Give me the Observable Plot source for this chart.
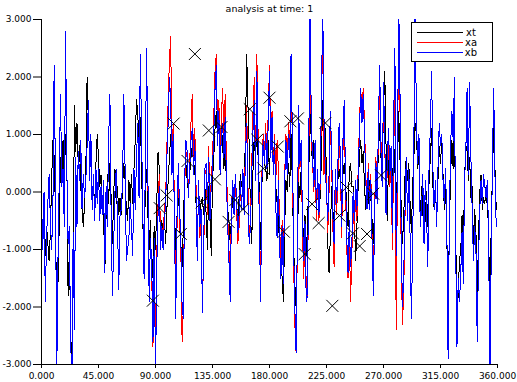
<!DOCTYPE html>
<html><head><meta charset="utf-8">
<script src="https://cdn.jsdelivr.net/npm/d3@7"></script>
<script src="https://cdn.jsdelivr.net/npm/@observablehq/plot@0.6"></script>
<style>body{margin:0;background:#fff;} svg{display:block}</style>
</head><body><div id="chart"></div>
<script>
const title = "analysis at time: 1";
const xTicks = [0, 45, 90, 135, 180, 225, 270, 315, 360];
const yTicks = [-3, -2, -1, 0, 1, 2, 3];
const seriesNames = ["xt", "xa", "xb"];
const seriesColors = ["#000000", "#ff0000", "#0000ff"];

const xt = [
-0.4,-0.7,-0.5,-1.1,-0.6,-0.9,-1.2,-0.7,0.2,0.9,
0.6,-0.3,-2.3,-1.6,-0.6,0.6,0.1,0.9,0.2,1.0,
0.5,-1.8,-1.0,-2.4,-3.1,-1.2,1.5,0.7,1.2,0.5,
0.8,0.1,-0.3,-0.6,-0.2,0.4,2.0,1.2,0.6,0.8,
-0.1,0.2,-0.3,0.5,1.0,0.6,0.1,0.3,-0.2,-0.4,
-1.4,-0.4,0.3,-0.2,0.5,-0.1,-0.9,0.0,0.4,-0.2,
0.1,-0.4,-0.1,-0.4,0.1,0.5,0.2,-0.3,-0.5,0.2,
-0.2,0.3,-0.2,0.4,0.9,1.6,1.4,0.6,1.3,0.4,
-0.6,-0.9,0.0,0.4,-0.4,-1.0,-0.5,-1.6,-1.2,-0.6,
-1.0,-0.2,0.7,0.4,-0.9,-0.5,-0.8,-0.4,-0.9,-0.3,
0.2,0.6,1.0,0.4,0.8,-0.3,-1.1,-0.4,0.2,-0.6,
-0.9,-1.3,-0.6,0.3,0.5,0.2,0.0,0.3,0.6,0.8,
0.5,0.4,-0.2,-0.8,-0.1,-0.4,-0.2,-0.1,-0.4,0.1,
-0.4,-1.0,0.1,-0.3,-1.1,0.2,0.6,1.1,1.4,0.9,
1.4,0.7,1.2,0.8,0.4,0.9,0.1,-0.3,-0.5,-0.9,
-0.4,-0.1,-0.3,0.1,-0.2,-0.5,-0.1,0.3,0.1,0.3,
0.0,1.0,2.4,1.5,0.8,-0.4,-0.9,0.4,1.0,0.5,
1.3,0.6,0.0,-1.0,0.1,0.9,0.5,0.4,0.2,0.9,
0.3,1.0,1.3,0.4,0.8,0.1,-0.2,-0.5,-0.9,-1.2,
-1.5,-1.9,-0.6,0.2,0.0,0.5,0.1,1.0,0.2,-0.9,
-1.6,-2.0,-1.0,0.2,-0.1,0.4,-0.3,-1.0,-0.4,-1.1,
-0.6,0.3,1.4,0.9,0.4,0.9,0.3,-0.1,0.2,-0.3,
-0.1,0.6,1.6,1.2,1.1,0.3,-0.9,-1.4,-0.8,0.1,
-0.3,-0.6,0.1,-0.3,0.2,0.4,0.2,-0.3,0.3,0.5,
0.2,-0.3,-0.6,0.4,0.5,0.1,0.1,-0.4,-1.2,-0.6,
0.1,0.6,0.9,0.5,0.7,0.1,-0.3,-0.1,-0.2,0.2,
-0.1,-0.5,-0.9,-0.2,0.4,0.3,0.6,1.2,0.6,0.4,
1.4,2.1,0.8,-0.5,0.6,0.3,0.5,-0.1,0.9,0.4,
-0.3,0.4,1.4,0.6,-0.3,-0.9,-0.4,0.3,0.6,0.2,
0.5,-0.2,-0.7,0.1,0.6,1.2,1.0,0.4,0.7,-0.5,
0.1,-0.3,-0.9,-0.4,0.0,-0.6,0.2,0.6,1.1,0.1,
-0.3,0.0,-0.4,0.2,0.8,0.5,0.9,0.3,-0.3,0.1,
-0.8,-2.2,-0.6,0.3,0.9,0.4,1.3,-0.6,-2.6,-1.7,
-1.2,-1.0,-0.4,-1.1,0.3,0.7,0.8,0.2,0.6,-0.1,
0.1,-0.9,-0.3,-0.7,-1.8,-0.8,0.0,0.3,-0.3,-0.1,
-0.2,0.1,-0.3,-0.6,-2.4,-0.6,0.3,1.1,0.4,-0.3
];

const xa = [
-0.1,-1.0,0.0,-1.9,-0.8,-0.2,0.3,-0.5,-1.0,-0.3,
2.2,0.3,-3.3,-1.2,0.2,1.7,0.1,0.4,-0.6,2.8,
0.4,-0.9,-0.6,-2.6,-3.3,-0.7,-2.4,0.6,-0.6,0.7,
0.2,0.9,-0.3,0.3,-0.1,0.2,0.8,1.6,0.2,1.0,
-0.3,0.3,-0.5,0.4,-0.2,0.4,-0.5,0.1,-0.4,0.2,
-1.4,0.1,-0.6,0.9,1.7,-0.5,-1.8,-0.9,0.0,0.4,
-0.5,-1.7,-0.4,-0.3,0.2,1.7,0.4,-1.2,-1.0,-0.8,
-0.2,-0.6,-1.1,0.4,-0.3,0.6,1.2,-0.1,2.4,1.0,
-0.4,-1.5,0.6,2.5,0.2,-1.7,-0.9,-1.4,-2.7,-0.9,
-2.6,-1.1,-0.2,0.3,-0.8,-0.6,-0.8,-0.3,-0.1,0.8,
1.6,2.3,2.7,0.6,1.2,-0.4,-1.9,-0.6,0.4,-0.5,
-1.0,-2.6,-2.0,0.1,0.7,0.6,0.0,0.5,1.2,1.7,
0.6,1.1,0.1,-1.0,0.1,-0.8,-0.5,-1.9,-1.2,0.3,
0.4,-0.4,0.8,-0.3,0.2,0.6,1.3,2.1,2.4,1.0,
1.6,0.6,1.3,1.8,0.9,1.7,0.5,-0.4,-1.0,-1.6,
-0.2,0.1,-0.3,0.2,-0.3,-0.9,-0.6,0.0,-0.2,0.3,
-0.3,0.8,1.5,0.1,-0.7,-0.5,0.5,1.4,2.0,0.5,
2.4,1.0,-0.4,-1.6,0.3,1.0,0.6,1.2,0.5,1.4,
2.2,0.8,1.4,0.5,1.0,0.2,0.9,0.4,-0.6,-1.2,
-0.5,-1.4,0.3,1.0,0.5,1.2,0.8,2.3,0.9,-1.2,
-2.3,-2.8,-0.9,1.2,0.4,0.7,-0.6,-1.5,-0.7,-1.6,
-1.8,0.6,2.6,1.0,0.5,0.0,0.6,-0.5,0.2,-0.5,
0.1,1.4,2.8,0.3,0.6,0.1,-0.7,0.0,1.1,0.6,
-0.6,-1.3,0.2,-0.4,0.3,1.0,0.4,-0.8,0.7,1.4,
0.1,-1.0,-1.5,-0.7,-1.9,-1.1,-0.2,-0.7,0.0,-0.5,
0.4,1.2,1.8,1.4,1.8,1.2,0.3,-0.2,0.5,-0.2,
0.3,-0.8,-1.6,-0.3,0.6,-0.1,1.0,1.9,0.9,0.3,
1.5,0.8,-0.3,0.4,0.8,0.1,0.5,-1.0,0.6,1.8,
-2.4,0.3,3.1,1.5,-1.2,-2.3,-1.7,-0.4,0.6,-0.5,
0.4,-0.8,-2.2,-1.0,0.9,3.3,1.2,0.5,1.0,-0.6,
-0.3,0.3,-0.9,0.2,-0.4,-1.3,0.5,1.1,2.1,0.4,
-0.3,0.2,-0.6,0.4,1.2,0.8,1.0,0.2,-0.2,0.4,
-0.6,-2.9,-0.4,0.8,1.4,0.9,2.0,-1.0,-2.7,-1.5,
-1.9,-1.4,-0.7,-1.6,0.2,0.7,1.8,0.3,1.9,0.6,
-0.3,-1.2,-0.6,-1.0,-2.6,-1.2,-0.3,0.2,-0.2,0.3,
0.1,-0.1,0.2,-0.8,-3.3,-1.2,0.5,1.8,0.3,-0.6
];

const xb = [
-0.1,-1.0,0.0,-1.9,-0.8,-0.2,0.3,-0.5,-1.0,-0.3,
2.2,0.3,-3.3,-1.2,0.2,1.7,0.1,0.4,-0.6,2.8,
0.4,-0.9,-0.6,-2.6,-3.3,-0.7,-2.4,0.6,-0.6,0.7,
0.2,0.9,-0.3,0.3,-0.1,0.2,0.8,1.6,0.2,1.0,
-0.3,0.3,-0.5,0.4,-0.2,0.4,-0.5,0.1,-0.4,0.2,
-1.4,0.1,-0.6,0.9,1.7,-0.5,-1.8,-0.9,0.0,0.4,
-0.5,-1.7,-0.4,-0.3,0.2,1.7,0.4,-1.2,-1.0,-0.8,
-0.2,-0.6,-1.1,0.4,-0.3,0.6,1.2,-0.1,2.4,1.0,
-0.4,-1.5,0.6,2.5,0.3,-1.9,-0.8,-1.2,-2.6,-0.8,
-3.3,-1.3,-0.4,0.1,-1.0,-0.6,-1.0,-0.5,-0.2,0.6,
1.2,2.0,1.6,0.3,1.0,-0.6,-2.2,-0.4,0.5,-0.3,
-0.8,-2.0,-2.2,0.2,0.9,0.7,-0.1,0.4,0.9,1.1,
0.3,0.9,-0.1,-1.2,0.2,-0.6,-0.3,-2.1,-1.0,0.4,
0.5,-0.2,0.6,-0.5,0.1,0.4,1.0,1.8,2.2,0.8,
1.4,0.3,1.0,1.2,0.6,1.3,0.2,-0.6,-1.2,-1.9,
-0.3,0.2,-0.4,0.3,-0.1,-0.7,-0.4,0.2,-0.3,0.4,
-0.4,0.6,1.2,-0.2,-0.9,-0.6,0.3,1.1,1.6,0.2,
2.1,0.8,-0.6,-1.9,0.2,0.9,0.5,1.0,0.4,1.2,
2.1,0.6,1.3,0.3,0.9,-0.3,-0.8,0.2,-1.0,-1.5,
-0.6,-1.6,0.2,0.9,0.3,1.0,0.6,2.4,1.1,-0.9,
-2.0,-2.8,-0.7,1.5,0.5,0.9,-0.4,-1.2,-0.5,-1.9,
-1.8,0.8,3.3,1.2,0.6,0.1,0.9,-0.3,0.4,-0.4,
0.2,1.6,3.3,1.3,0.4,0.0,-0.5,0.3,1.4,0.8,
-0.4,-0.9,0.4,-0.2,0.5,1.2,0.6,-0.6,0.9,1.6,
0.3,-0.8,-1.4,-0.5,-1.3,-0.9,0.0,-0.5,0.2,-0.3,
0.3,1.0,1.8,1.2,1.7,1.0,0.2,-0.3,0.4,-0.3,
0.2,-0.9,-1.8,-0.4,0.5,-0.2,1.2,2.2,0.7,0.1,
1.9,0.9,-0.4,0.6,1.1,0.3,0.8,-0.7,1.2,2.5,
-1.1,0.5,3.3,1.8,-0.9,-2.0,-1.4,-0.3,0.6,-0.5,
0.4,-0.8,-2.2,-1.0,0.9,3.3,1.2,0.5,1.0,-0.6,
-0.3,0.3,-0.9,0.2,-0.4,-1.3,0.5,1.1,2.1,0.4,
-0.3,0.2,-0.6,0.4,1.2,0.8,1.0,0.2,-0.2,0.4,
-0.6,-2.9,-0.4,0.8,1.4,0.9,2.0,-1.0,-2.7,-1.5,
-1.9,-1.4,-0.7,-1.6,0.2,0.7,1.8,0.3,1.9,0.6,
-0.3,-1.2,-0.6,-1.0,-2.6,-1.2,-0.3,0.2,-0.2,0.3,
0.1,-0.1,0.2,-0.8,-3.3,-1.2,0.5,1.8,0.3,-0.6
];

const obsX = [87.9, 93.3, 98.8, 104.3, 110.0, 115.3, 121.1, 126.4, 132.1, 136.9, 142.1, 147.7, 153.0, 159.1, 164.4, 170.3, 175.1, 180.0, 186.5, 191.3, 196.5, 202.4, 207.8, 213.6, 218.8, 224.1, 229.6, 235.2, 240.7, 245.8, 251.2, 257.0, 261.9, 268.0];
const obsY = [-1.89, -0.28, -0.06, 1.19, -0.73, 0.54, 2.40, -0.18, 1.07, 0.22, 1.13, -0.52, -0.14, -0.30, 1.44, 0.91, 0.41, 1.64, 0.79, -0.69, 1.23, 1.28, -1.08, -0.21, -0.54, 1.20, -1.98, -0.41, 0.08, -0.72, -0.94, -0.73, -0.03, 0.29];

const rows = [];
[xt, xa, xb].forEach((arr, k) => arr.forEach((v, i) => rows.push({series: seriesNames[k], x: i, y: v})));
const obs = obsX.map((x, i) => ({x, y: obsY[i]}));
const fmt = d => d.toFixed(3);

const plot = Plot.plot({
  width: 517, height: 382,
  marginLeft: 41, marginRight: 20, marginTop: 19, marginBottom: 18,
  style: {fontFamily: "DejaVu Sans", fontSize: "9px", background: "#fff", color: "#000", overflow: "visible"},
  x: {domain: [0, 360], ticks: xTicks, tickFormat: fmt, label: null, tickSize: 4, tickPadding: 4},
  y: {domain: [-3, 3], ticks: yTicks, tickFormat: fmt, label: null, tickSize: 8, tickPadding: 2},
  color: {domain: seriesNames, range: seriesColors},
  marks: [
    Plot.line(rows, {x: "x", y: "y", z: "series", stroke: "series", strokeWidth: 1, clip: true, shapeRendering: "crispEdges"}),
    Plot.dot(obs, {x: "x", y: "y", symbol: "times", r: 5.5, stroke: "#000", strokeWidth: 1}),
    Plot.ruleX([0], {stroke: "#000", shapeRendering: "crispEdges"}),
    Plot.ruleY([-3], {stroke: "#000", shapeRendering: "crispEdges"}),
    Plot.text([title], {frameAnchor: "top", dy: -14, fontSize: 9.5})
  ]
});

// legend box (top right, inside the frame)
const svg = d3.select(plot);
const lg = svg.append("g").attr("font-family", "DejaVu Sans").attr("font-size", 10);
lg.append("rect").attr("x", 411.5).attr("y", 22.5).attr("width", 81).attr("height", 39)
  .attr("fill", "#fff").attr("stroke", "#000").attr("stroke-width", 1);
seriesNames.forEach((name, i) => {
  const y = 32.5 + i * 10;
  lg.append("line").attr("x1", 417).attr("x2", 463).attr("y1", y).attr("y2", y)
    .attr("stroke", seriesColors[i]).attr("stroke-width", 1).attr("shape-rendering", "crispEdges");
  lg.append("text").attr("x", 471).attr("y", y).attr("dy", "0.35em").attr("fill", "#000").text(name);
});

document.getElementById("chart").appendChild(plot);
</script>
</body></html>
